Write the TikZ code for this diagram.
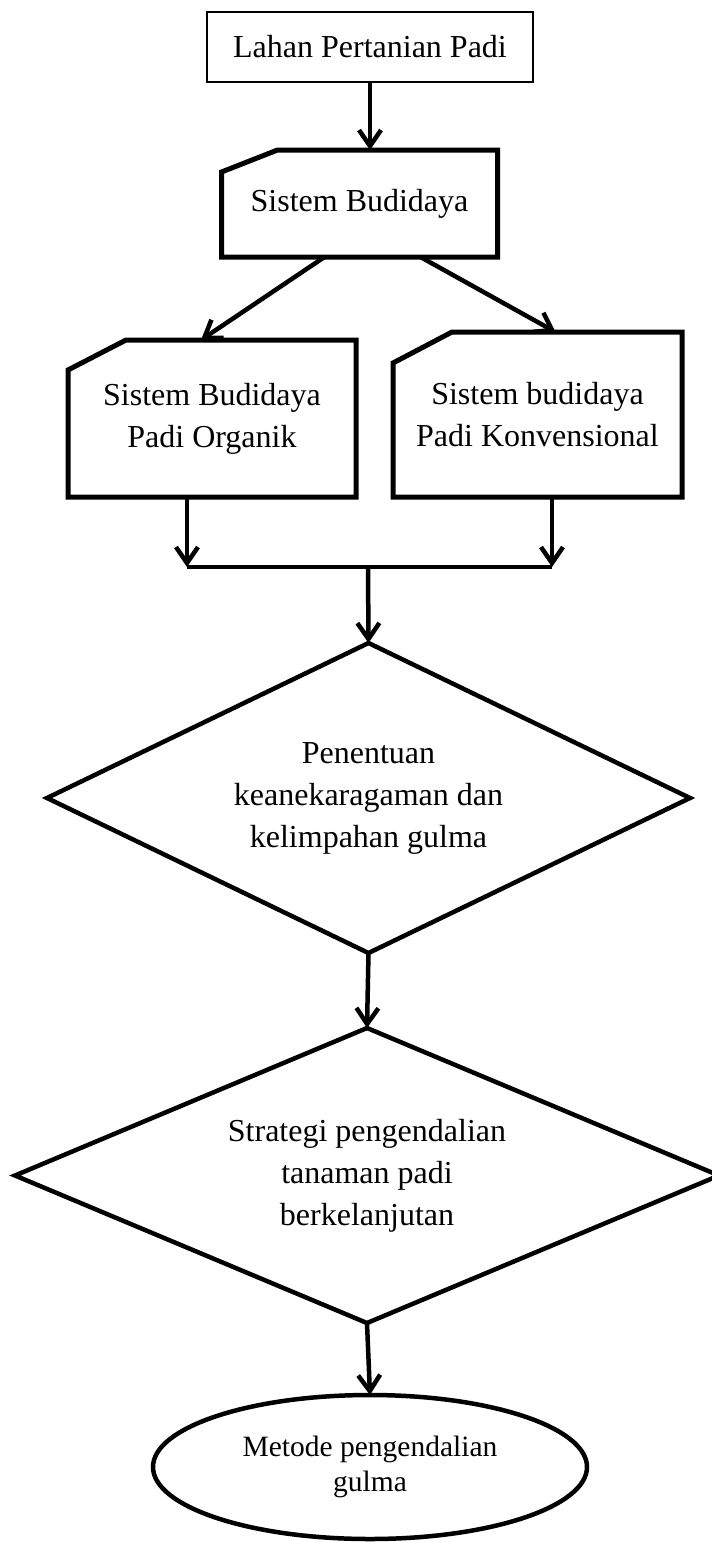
\documentclass[tikz,border=0pt]{standalone}
\usepackage{fontspec}
\setmainfont{Liberation Serif}
\usetikzlibrary{shapes.geometric,arrows.meta}

\begin{document}
\begin{tikzpicture}[x=1pt,y=-1pt]

    \tikzset{
      plainbox/.style={
        draw,
        line width=2pt,
        inner sep=0pt,
        outer sep=0pt,
        font=\fontsize{32}{42}\selectfont,
      },
      cutbox/.style={
        inner sep=0pt,
        outer sep=0pt,
        align=center,
        font=\fontsize{32}{42}\selectfont,
      },
      cutline/.style={line width=5pt},
      decision/.style={
        draw,
        diamond,
        line width=4.5pt,
        inner sep=0pt,
        outer sep=0pt,
        align=center,
        font=\fontsize{32}{42}\selectfont,
      },
      terminal/.style={
        draw,
        ellipse,
        line width=4.5pt,
        inner sep=0pt,
        outer sep=0pt,
        align=center,
        font=\fontsize{29.5}{35}\selectfont,
      },
      flow/.style={line width=4.5pt,-{Straight Barb[length=16pt,width=22pt]}},
    }
    \useasboundingbox (0,0) rectangle (712,1542);

	\node[plainbox, minimum width=326pt, minimum height=70pt] (lahan) at (370,47) {Lahan Pertanian Padi};
	\node[cutbox, minimum width=276pt, minimum height=107pt] (sistem) at (359.5,203.5) {Sistem Budidaya};
	\node[cutbox, minimum width=288pt, minimum height=157pt] (organik) at (212,418.5) {Sistem Budidaya\\Padi Organik};
	\node[cutbox, minimum width=289pt, minimum height=165pt] (konvensional) at (537.5,414.5) {Sistem budidaya\\Padi Konvensional};

	% kotak dengan sudut kiri atas terpotong
	\draw[cutline] ([yshift=-22pt]sistem.north west) -- ([xshift=56pt]sistem.north west) -- (sistem.north east) -- (sistem.south east) -- (sistem.south west) -- cycle;
	\draw[cutline] ([yshift=-30pt]organik.north west) -- ([xshift=58pt]organik.north west) -- (organik.north east) -- (organik.south east) -- (organik.south west) -- cycle;
	\draw[cutline] ([yshift=-31pt]konvensional.north west) -- ([xshift=59pt]konvensional.north west) -- (konvensional.north east) -- (konvensional.south east) -- (konvensional.south west) -- cycle;

	\node[decision, aspect=2.1, minimum width=643pt, minimum height=310pt] (penentuan) at (368.5,798) {Penentuan\\keanekaragaman dan\\kelimpahan gulma};
	\node[decision, aspect=2.4, minimum width=704pt, minimum height=295pt] (strategi) at (367,1175.5) {Strategi pengendalian\\tanaman padi\\berkelanjutan};
	\node[terminal, minimum width=434pt, minimum height=144pt] (metode) at (370,1467) {Metode pengendalian\\gulma};

	\coordinate (jleft) at (187,567);
	\coordinate (jright) at (552,567);
	\coordinate (jmid) at (368,567);

	\draw[flow] (lahan.south) -- (lahan.south |- sistem.north);
	\draw[flow] ([xshift=-35pt]sistem.south) -- ([xshift=-11pt]organik.north);
	\draw[flow] ([xshift=61pt]sistem.south) -- ([xshift=18pt]konvensional.north);
	\draw[flow] (organik.south -| jleft) -- (jleft);
	\draw[flow] (konvensional.south -| jright) -- (jright);
	\draw[line width=4.5pt] (jleft) -- (jright);
	\draw[flow] (jmid) -- (penentuan.north);
	\draw[flow] (penentuan.south) -- (strategi.north);
	\draw[flow] (strategi.south) -- (metode.north);

\end{tikzpicture}
\end{document}
